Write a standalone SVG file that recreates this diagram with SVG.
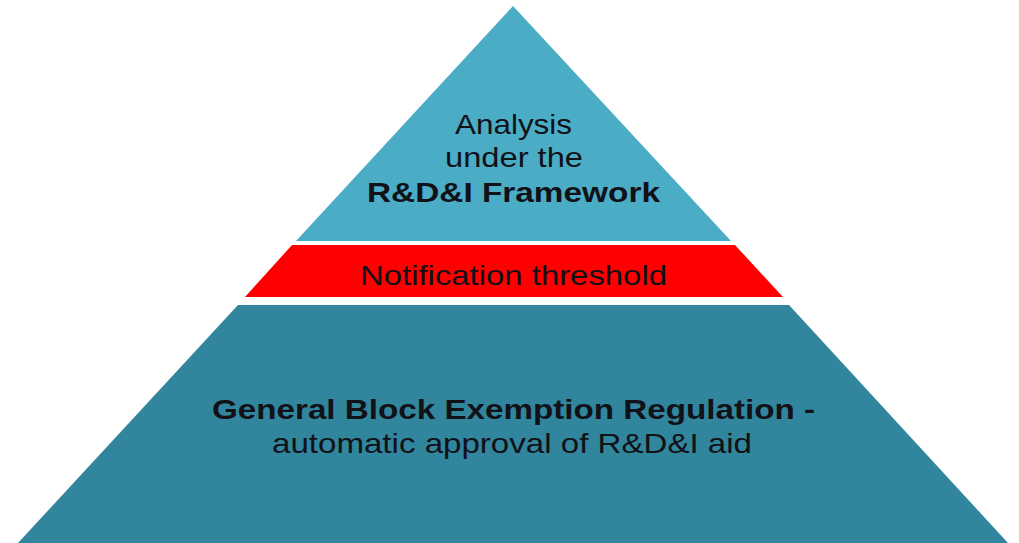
<svg xmlns="http://www.w3.org/2000/svg" width="1019" height="543" viewBox="0 0 1019 543">
<style>
text{font-family:"Liberation Sans",Arial,sans-serif;font-size:28px;fill:#111118;text-anchor:middle}
.b{font-weight:bold}
</style>
<rect width="1019" height="543" fill="#ffffff"/>
<g id="top">
<polygon points="513,6 296,241 731,241" fill="#4bacc6"/>
<text x="513.5" y="134" textLength="117" lengthAdjust="spacingAndGlyphs">Analysis</text>
<text x="514" y="167" textLength="138" lengthAdjust="spacingAndGlyphs">under the</text>
<text class="b" x="513.5" y="202" textLength="293" lengthAdjust="spacingAndGlyphs">R&amp;D&amp;I Framework</text>
</g>
<g id="threshold">
<polygon points="292,245 735,245 783,297 245,297" fill="#ff0000"/>
<text x="513.5" y="285" textLength="307" lengthAdjust="spacingAndGlyphs">Notification threshold</text>
</g>
<g id="base">
<polygon points="238,305 789,305 1008,543 18,543" fill="#31859c"/>
<text class="b" x="513.5" y="419" textLength="603" lengthAdjust="spacingAndGlyphs">General Block Exemption Regulation -</text>
<text x="512" y="453" textLength="480" lengthAdjust="spacingAndGlyphs">automatic approval of R&amp;D&amp;I aid</text>
</g>
<g id="connectors"></g>
</svg>
